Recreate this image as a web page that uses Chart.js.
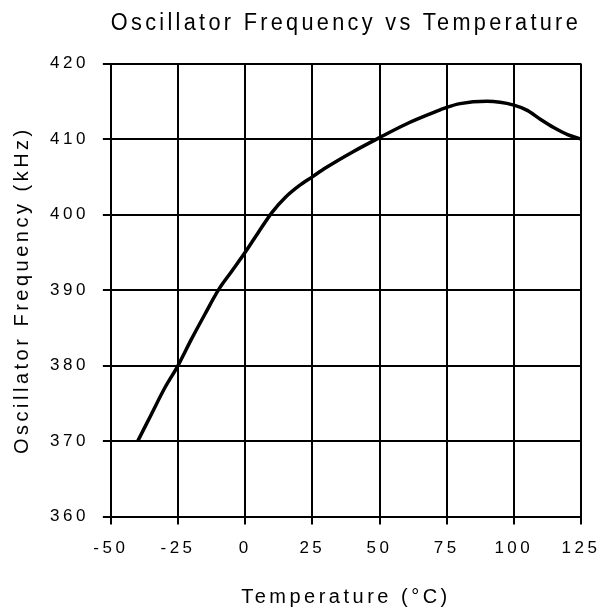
<!DOCTYPE html>
<html>
<head>
<meta charset="utf-8">
<script src="https://cdn.jsdelivr.net/npm/chart.js@4"></script>
<style>
  html, body { margin: 0; padding: 0; background: #fff; }
  #wrap { width: 602px; height: 611px; }
</style>
</head>
<body>
<div id="wrap"><canvas id="chart"></canvas></div>
<script>
// temperature (°C) and frequency (kHz)
const temps = [-40, -35, -30, -25, -20, -15, -10, -5, 0, 5, 10, 15, 20, 25, 30, 40, 50, 60, 70, 75, 80, 90, 100, 105, 110, 115, 120, 125];
const freqs = [370, 373.5, 377, 380, 383.5, 386.8, 390, 392.5, 395, 397.7, 400.3, 402.3, 403.8, 405, 406.2, 408.3, 410.2, 412, 413.5, 414.2, 414.7, 415, 414.5, 413.8, 412.6, 411.5, 410.6, 410];

const fontFamily = '"Liberation Sans", Arial, sans-serif';

// old-style wide lettering
const spacing = {
    id: 'spacing',
    beforeLayout(chart) { chart.ctx.letterSpacing = '3.5px'; },
    beforeDraw(chart) { chart.ctx.letterSpacing = '3.5px'; }
};

new Chart(document.getElementById('chart'), {
    type: 'line',
    data: {
        datasets: [{
            data: temps.map((t, i) => ({ x: t, y: freqs[i] })),
            borderColor: '#000',
            borderWidth: 3.5,
            pointRadius: 0,
            tension: 0.4,
            cubicInterpolationMode: 'monotone',
            fill: false
        }]
    },
    options: {
        responsive: true,
        maintainAspectRatio: false,
        animation: false,
        layout: { padding: { top: 0, right: 0, bottom: 0, left: 10 } },
        plugins: {
            legend: { display: false },
            tooltip: { enabled: false },
            title: {
                display: true,
                fullSize: false,
                text: 'Oscillator Frequency vs Temperature',
                color: '#000',
                font: { family: fontFamily, size: 23, weight: 'normal' },
                padding: { top: 10, bottom: 26 }
            }
        },
        scales: {
            x: {
                type: 'linear',
                min: -50,
                max: 125,
                afterFit(scale) { scale.paddingRight = 21; },
                ticks: { stepSize: 25, color: '#000', padding: 14, font: { family: fontFamily, size: 17 } },
                grid: { color: '#000', lineWidth: 2, tickLength: 8 },
                border: { color: '#000', width: 2 },
                title: {
                    display: true,
                    text: 'Temperature (°C)',
                    color: '#000',
                    font: { family: fontFamily, size: 20 },
                    padding: { top: 12, bottom: 2 }
                }
            },
            y: {
                min: 360,
                max: 420,
                ticks: { stepSize: 10, color: '#000', padding: 14, font: { family: fontFamily, size: 17 } },
                grid: { color: '#000', lineWidth: 2, tickLength: 8 },
                border: { color: '#000', width: 2 },
                title: {
                    display: true,
                    text: 'Oscillator Frequency (kHz)',
                    color: '#000',
                    font: { family: fontFamily, size: 20 },
                    padding: { top: 0, bottom: 2 }
                }
            }
        }
    },
    plugins: [spacing]
});
</script>
</body>
</html>
